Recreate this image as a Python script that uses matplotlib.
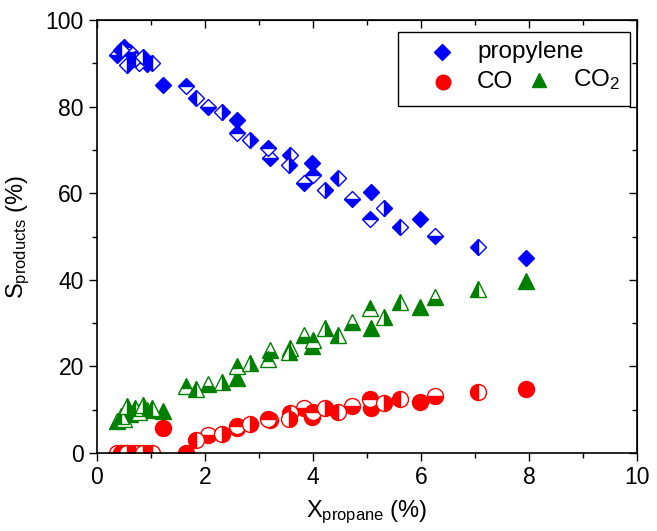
import matplotlib
matplotlib.use("Agg")
import matplotlib.pyplot as plt
from matplotlib.ticker import MultipleLocator
from matplotlib.patches import Rectangle
from matplotlib.lines import Line2D

plt.rcParams['font.family'] = ['Liberation Sans', 'DejaVu Sans']
plt.rcParams['mathtext.fontset'] = 'custom'
plt.rcParams['mathtext.rm'] = 'Liberation Sans'
plt.rcParams['mathtext.it'] = 'Liberation Sans:italic'

# propane conversion (%) and product selectivities (%)
x_propane = [0.38, 0.45, 0.50, 0.55, 0.62, 0.70, 0.78, 0.85, 0.92, 1.02,
             1.23, 1.64, 1.83, 2.06, 2.31, 2.60, 2.59, 2.84, 3.17, 3.20,
             3.57, 3.55, 3.83, 3.98, 4.00, 4.22, 4.47, 4.73, 5.07, 5.05,
             5.32, 5.61, 5.98, 6.26, 7.05, 7.94]
s_propylene = [92.0, 93.0, 93.8, 89.6, 92.5, 91.0, 90.0, 91.5, 89.8, 90.0,
               85.0, 84.8, 81.9, 79.8, 78.8, 76.9, 73.8, 72.3, 70.5, 68.1,
               68.8, 66.5, 62.3, 66.9, 64.2, 60.7, 63.4, 58.6, 60.3, 54.1,
               56.6, 52.1, 54.1, 50.1, 47.6, 45.1]
s_co = [0.0, 0.0, 0.0, 0.0, 0.0, 0.0, 0.0, 0.0, 0.0, 0.0,
        5.8, 0.0, 3.0, 4.2, 4.5, 5.7, 6.2, 6.6, 7.9, 7.6,
        9.2, 7.8, 10.5, 8.4, 9.4, 10.3, 9.5, 10.9, 10.3, 12.4,
        11.6, 12.5, 11.8, 13.2, 14.2, 14.8]
s_co2 = [7.5, 8.5, 7.8, 10.8, 9.0, 10.5, 9.5, 11.0, 10.0, 10.5,
         9.8, 15.5, 14.7, 15.9, 16.5, 17.4, 20.1, 20.9, 21.7, 23.8,
         24.2, 23.3, 27.3, 24.7, 26.1, 28.8, 27.3, 30.2, 28.8, 33.4,
         31.5, 34.8, 33.8, 36.1, 37.8, 39.8]
# experiment run of each point
run = ['B', 'D', 'C', 'E', 'B', 'D', 'C', 'E', 'B', 'D',
       'A', 'C', 'D', 'B', 'E', 'A', 'C', 'E', 'C', 'B',
       'D', 'E', 'B', 'A', 'C', 'E', 'D', 'B', 'A', 'C',
       'E', 'D', 'A', 'B', 'D', 'A']

fill_of_run = {'A': 'full', 'B': 'bottom', 'C': 'top', 'D': 'left', 'E': 'right'}

species = [
    (s_propylene, 'D', '#0000FF', 8.5),
    (s_co, 'o', '#FF0000', 11.5),
    (s_co2, '^', '#008000', 11.5),
]

fig = plt.figure(figsize=(6.57, 5.31), dpi=100)
ax = fig.add_axes([0.1476, 0.1469, 0.822, 0.8154])

for r, fs in fill_of_run.items():
    idx = [i for i, k in enumerate(run) if k == r]
    xs = [x_propane[i] for i in idx]
    for vals, mk, col, ms in species:
        ys = [vals[i] for i in idx]
        ax.plot(xs, ys, linestyle='none', marker=mk, markersize=ms,
                color=col, markerfacecolor=col, markeredgecolor=col,
                markerfacecoloralt='white', fillstyle=fs, markeredgewidth=1.0)

ax.set_xlim(0, 10)
ax.set_ylim(0, 100)
ax.xaxis.set_major_locator(MultipleLocator(2))
ax.xaxis.set_minor_locator(MultipleLocator(1))
ax.yaxis.set_major_locator(MultipleLocator(20))
ax.yaxis.set_minor_locator(MultipleLocator(10))
ax.tick_params(which='major', direction='out', length=6, width=1.0, labelsize=16.5)
ax.tick_params(which='minor', direction='out', length=3.5, width=1.0)
for sp in ax.spines.values():
    sp.set_linewidth(1.2)

top = ax.secondary_xaxis('top')
top.xaxis.set_major_locator(MultipleLocator(2))
top.xaxis.set_minor_locator(MultipleLocator(1))
top.tick_params(which='both', direction='in', labeltop=False, width=1.0)
top.tick_params(which='major', length=6)
top.tick_params(which='minor', length=3.5)
right = ax.secondary_yaxis('right')
right.yaxis.set_major_locator(MultipleLocator(20))
right.yaxis.set_minor_locator(MultipleLocator(10))
right.tick_params(which='both', direction='in', labelright=False, width=1.0)
right.tick_params(which='major', length=6)
right.tick_params(which='minor', length=3.5)

ax.set_xlabel(r'X$_{\mathrm{propane}}$ (%)', fontsize=17, labelpad=7)
ax.set_ylabel(r'S$_{\mathrm{products}}$ (%)', fontsize=17, labelpad=10)

# legend box drawn by hand: propylene on the first row, CO and CO2 on the second
ax.add_patch(Rectangle((0.557, 0.801), 0.430, 0.172, transform=ax.transAxes,
                       facecolor='white', edgecolor='black', linewidth=1.0,
                       zorder=5))
legend_items = [
    ('D', '#0000FF', 8.5, 0.638, 0.925, 'propylene', 0.704),
    ('o', '#FF0000', 10.5, 0.640, 0.857, 'CO', 0.704),
    ('^', '#008000', 10.5, 0.819, 0.862, r'CO$_2$', 0.882),
]
for mk, col, ms, mx, my, label, tx in legend_items:
    ax.add_line(Line2D([mx], [my], marker=mk, markersize=ms, color=col,
                       linestyle='none', transform=ax.transAxes, zorder=6))
    ax.text(tx, my, label, transform=ax.transAxes, fontsize=17.5,
            va='center', ha='left', zorder=6)

fig.savefig('out.png', dpi=100)
